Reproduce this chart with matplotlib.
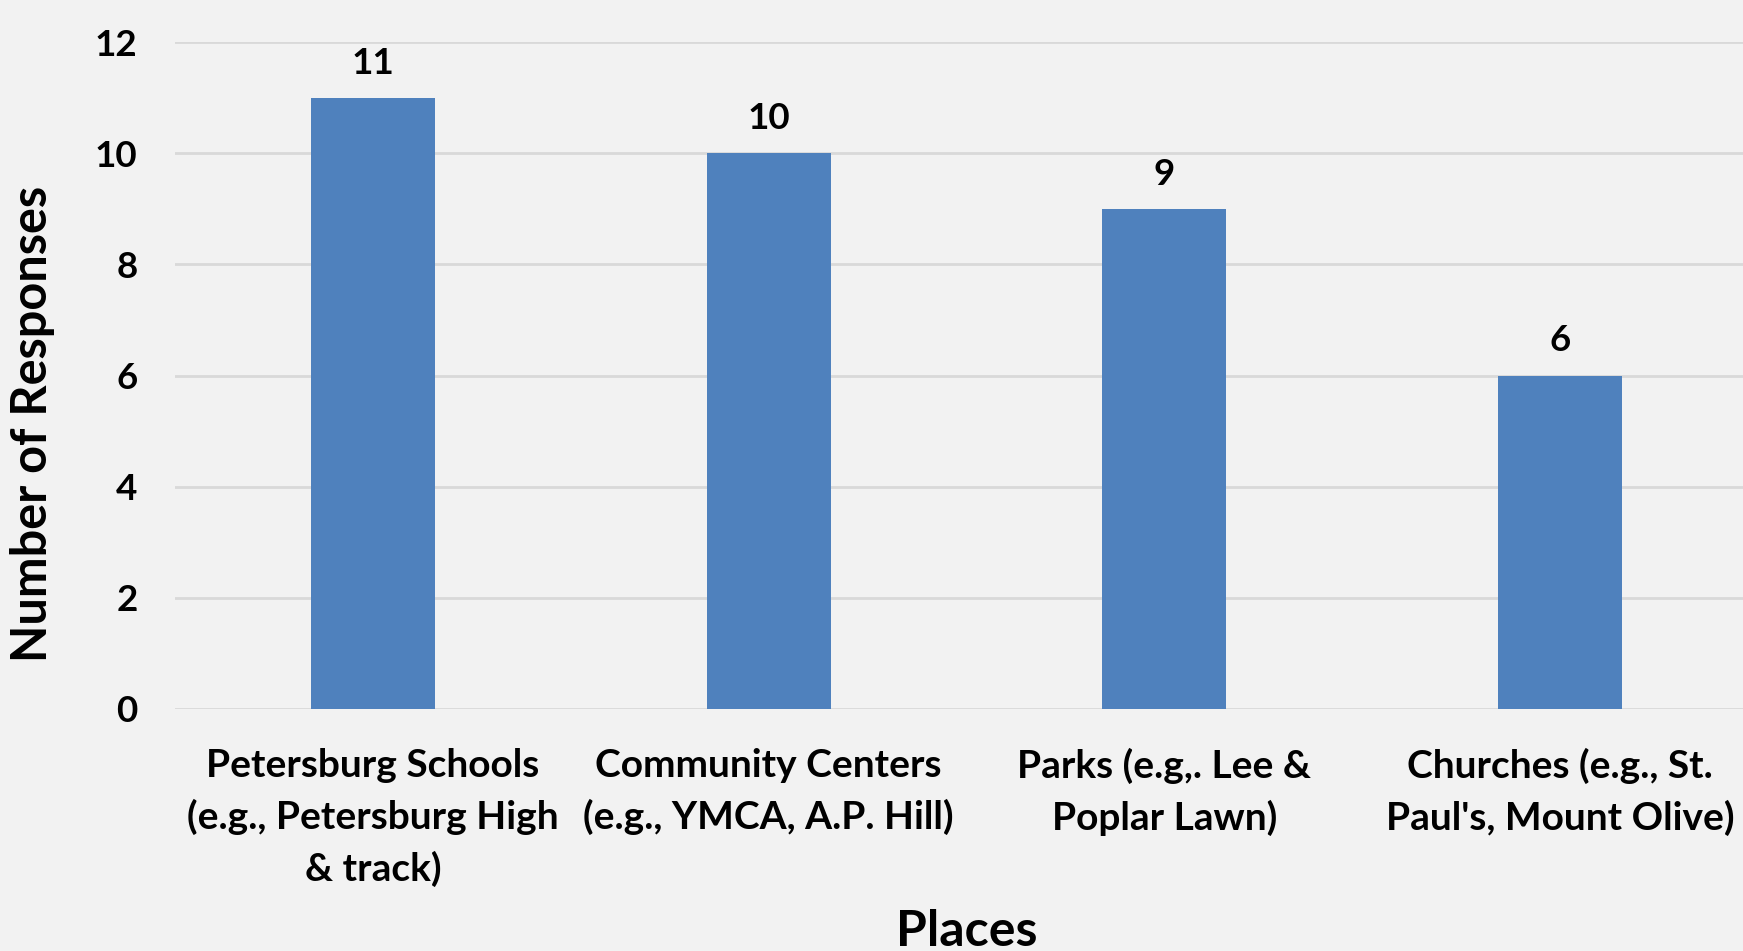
import matplotlib
matplotlib.use("Agg")
import matplotlib.pyplot as plt
import numpy as np

# chart data
places = [
    "Petersburg Schools\n(e.g., Petersburg High\n& track)",
    "Community Centers\n(e.g., YMCA, A.P. Hill)",
    "Parks (e.g,. Lee &\nPoplar Lawn)",
    "Churches (e.g., St.\nPaul's, Mount Olive)",
]
responses = [11, 10, 9, 6]
y_ticks = [0, 2, 4, 6, 8, 10, 12]

bg = "#F2F2F2"
bar_color = "#4F81BD"
grid_color = "#D9D9D9"

plt.rcParams["font.family"] = ["Lato", "DejaVu Sans"]
plt.rcParams["font.weight"] = "bold"

W, H = 1743, 951
fig = plt.figure(figsize=(W / 100, H / 100), dpi=100, facecolor=bg)
ax = fig.add_axes([175 / W, 242 / H, (1758 - 175) / W, 667 / H])
ax.set_facecolor(bg)

x = np.arange(len(places))
bars = ax.bar(x, responses, width=0.313, color=bar_color, zorder=3)

ax.set_xlim(-0.5, len(places) - 0.5)
ax.set_ylim(0, 12)
ax.set_yticks(y_ticks)
ax.set_yticklabels([str(v) for v in y_ticks], fontsize=26.5, fontweight="bold")
ax.set_xticks(x)
ax.set_xticklabels(places, fontsize=28, fontweight="bold", linespacing=1.52)
ax.tick_params(axis="both", length=0)
ax.tick_params(axis="y", pad=27)
ax.tick_params(axis="x", pad=28)

ax.yaxis.grid(True, color=grid_color, linewidth=2, zorder=0)
for s in ax.spines.values():
    s.set_visible(False)

for b, v in zip(bars, responses):
    ax.annotate(str(v), (b.get_x() + b.get_width() / 2, v), xytext=(0, 13),
                textcoords="offset points", ha="center", va="bottom",
                fontsize=26.5, fontweight="bold")

ax.set_ylabel("Number of Responses", fontsize=35, fontweight="bold")
ax.yaxis.set_label_coords(-0.0755, 0.428)
ax.set_xlabel("Places", fontsize=36, fontweight="bold")
ax.xaxis.set_label_coords(0.5, -0.30)

fig.savefig("out.png", dpi=100, facecolor=bg)
